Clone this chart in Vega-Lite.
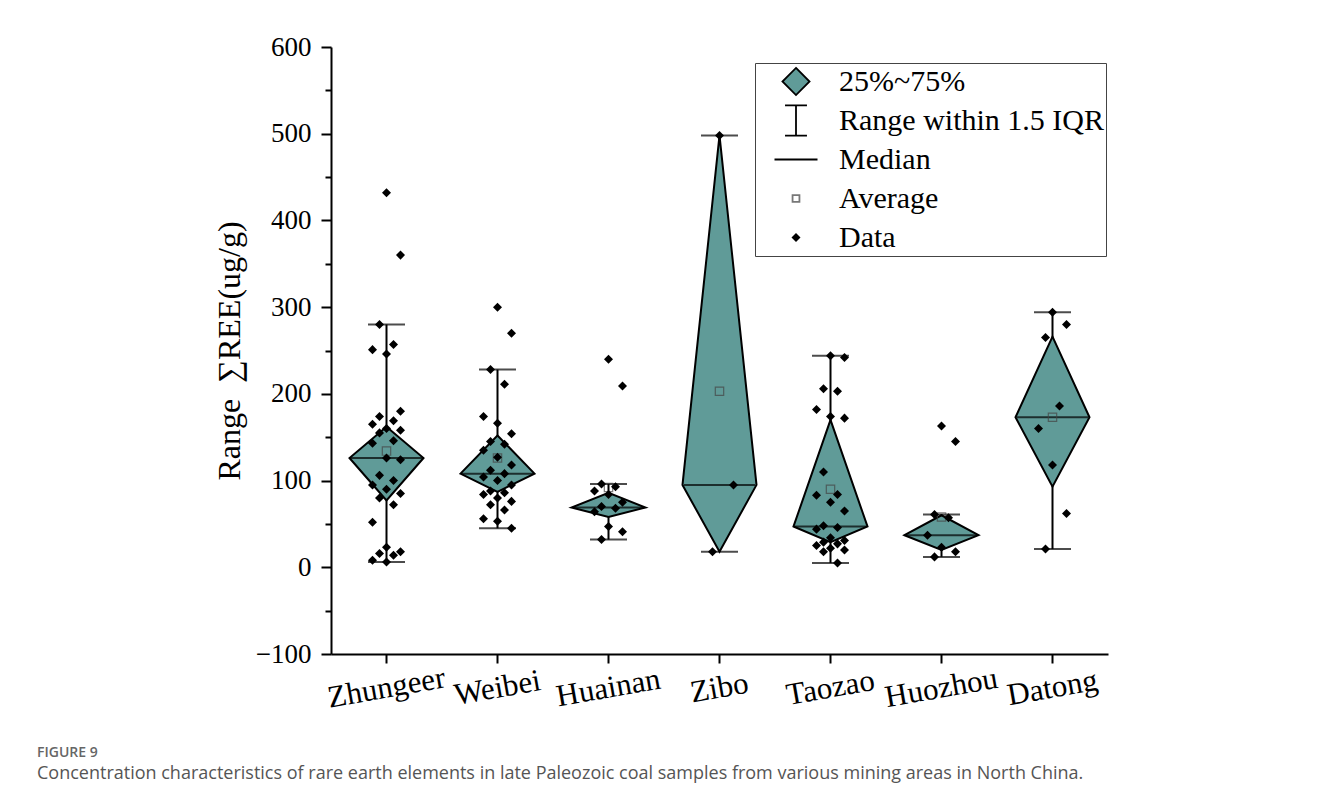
{
  "$schema": "https://vega.github.io/schema/vega-lite/v6.json",
  "width": 777,
  "height": 607,
  "autosize": {"type": "none"},
  "padding": {"left": 331, "top": 47, "right": 220, "bottom": 150},
  "background": "white",
  "title": {
    "text": "FIGURE 9",
    "subtitle": "Concentration characteristics of rare earth elements in late Paleozoic coal samples from various mining areas in North China.",
    "orient": "bottom",
    "anchor": "start",
    "frame": "group",
    "dx": -294,
    "offset": 33,
    "font": "Open Sans",
    "fontSize": 14,
    "fontWeight": 600,
    "color": "#666666",
    "subtitleFont": "Open Sans",
    "subtitleFontSize": 18,
    "subtitleColor": "#555555",
    "subtitlePadding": 5
  },
  "datasets": {
    "stats": [
      {"site": "Zhungeer", "low": 6, "q1": 77, "median": 126, "q3": 162, "high": 280, "mean": 134},
      {"site": "Weibei", "low": 45, "q1": 87, "median": 108, "q3": 152, "high": 228, "mean": 126},
      {"site": "Huainan", "low": 32, "q1": 58, "median": 69, "q3": 86, "high": 96, "mean": 92},
      {"site": "Zibo", "low": 18, "q1": 18, "median": 95, "q3": 498, "high": 498, "mean": 203},
      {"site": "Taozao", "low": 5, "q1": 29, "median": 47, "q3": 170, "high": 244, "mean": 90},
      {"site": "Huozhou", "low": 12, "q1": 20, "median": 37, "q3": 60, "high": 61, "mean": 58},
      {"site": "Datong", "low": 21, "q1": 93, "median": 173, "q3": 266, "high": 294, "mean": 173}
    ],
    "diamond": [
      {"site": "Zhungeer", "vertex": "Zhungeer-left", "lo": 126, "hi": 126},
      {"site": "Zhungeer", "vertex": "Zhungeer-mid", "lo": 77, "hi": 162},
      {"site": "Zhungeer", "vertex": "Zhungeer-right", "lo": 126, "hi": 126},
      {"site": "Weibei", "vertex": "Weibei-left", "lo": 108, "hi": 108},
      {"site": "Weibei", "vertex": "Weibei-mid", "lo": 87, "hi": 152},
      {"site": "Weibei", "vertex": "Weibei-right", "lo": 108, "hi": 108},
      {"site": "Huainan", "vertex": "Huainan-left", "lo": 69, "hi": 69},
      {"site": "Huainan", "vertex": "Huainan-mid", "lo": 58, "hi": 86},
      {"site": "Huainan", "vertex": "Huainan-right", "lo": 69, "hi": 69},
      {"site": "Zibo", "vertex": "Zibo-left", "lo": 95, "hi": 95},
      {"site": "Zibo", "vertex": "Zibo-mid", "lo": 18, "hi": 498},
      {"site": "Zibo", "vertex": "Zibo-right", "lo": 95, "hi": 95},
      {"site": "Taozao", "vertex": "Taozao-left", "lo": 47, "hi": 47},
      {"site": "Taozao", "vertex": "Taozao-mid", "lo": 29, "hi": 170},
      {"site": "Taozao", "vertex": "Taozao-right", "lo": 47, "hi": 47},
      {"site": "Huozhou", "vertex": "Huozhou-left", "lo": 37, "hi": 37},
      {"site": "Huozhou", "vertex": "Huozhou-mid", "lo": 20, "hi": 60},
      {"site": "Huozhou", "vertex": "Huozhou-right", "lo": 37, "hi": 37},
      {"site": "Datong", "vertex": "Datong-left", "lo": 173, "hi": 173},
      {"site": "Datong", "vertex": "Datong-mid", "lo": 93, "hi": 266},
      {"site": "Datong", "vertex": "Datong-right", "lo": 173, "hi": 173}
    ],
    "points": [
      {"site": "Zhungeer", "value": 432}, {"site": "Zhungeer", "value": 360}, {"site": "Zhungeer", "value": 280},
      {"site": "Zhungeer", "value": 257}, {"site": "Zhungeer", "value": 251}, {"site": "Zhungeer", "value": 246},
      {"site": "Zhungeer", "value": 180}, {"site": "Zhungeer", "value": 174}, {"site": "Zhungeer", "value": 169},
      {"site": "Zhungeer", "value": 165}, {"site": "Zhungeer", "value": 160}, {"site": "Zhungeer", "value": 158},
      {"site": "Zhungeer", "value": 155}, {"site": "Zhungeer", "value": 146}, {"site": "Zhungeer", "value": 143},
      {"site": "Zhungeer", "value": 126}, {"site": "Zhungeer", "value": 124}, {"site": "Zhungeer", "value": 106},
      {"site": "Zhungeer", "value": 100}, {"site": "Zhungeer", "value": 95}, {"site": "Zhungeer", "value": 90},
      {"site": "Zhungeer", "value": 85}, {"site": "Zhungeer", "value": 80}, {"site": "Zhungeer", "value": 72},
      {"site": "Zhungeer", "value": 52}, {"site": "Zhungeer", "value": 23}, {"site": "Zhungeer", "value": 18},
      {"site": "Zhungeer", "value": 16}, {"site": "Zhungeer", "value": 14}, {"site": "Zhungeer", "value": 8},
      {"site": "Zhungeer", "value": 6},
      {"site": "Weibei", "value": 300}, {"site": "Weibei", "value": 270}, {"site": "Weibei", "value": 228},
      {"site": "Weibei", "value": 211}, {"site": "Weibei", "value": 174}, {"site": "Weibei", "value": 166},
      {"site": "Weibei", "value": 154}, {"site": "Weibei", "value": 145}, {"site": "Weibei", "value": 142},
      {"site": "Weibei", "value": 135}, {"site": "Weibei", "value": 127}, {"site": "Weibei", "value": 118},
      {"site": "Weibei", "value": 112}, {"site": "Weibei", "value": 108}, {"site": "Weibei", "value": 104},
      {"site": "Weibei", "value": 100}, {"site": "Weibei", "value": 95}, {"site": "Weibei", "value": 88},
      {"site": "Weibei", "value": 86}, {"site": "Weibei", "value": 84}, {"site": "Weibei", "value": 80},
      {"site": "Weibei", "value": 76}, {"site": "Weibei", "value": 72}, {"site": "Weibei", "value": 66},
      {"site": "Weibei", "value": 56}, {"site": "Weibei", "value": 53}, {"site": "Weibei", "value": 45},
      {"site": "Huainan", "value": 240}, {"site": "Huainan", "value": 209}, {"site": "Huainan", "value": 96},
      {"site": "Huainan", "value": 93}, {"site": "Huainan", "value": 88}, {"site": "Huainan", "value": 84},
      {"site": "Huainan", "value": 75}, {"site": "Huainan", "value": 70}, {"site": "Huainan", "value": 68},
      {"site": "Huainan", "value": 64}, {"site": "Huainan", "value": 47}, {"site": "Huainan", "value": 41},
      {"site": "Huainan", "value": 32},
      {"site": "Zibo", "value": 498}, {"site": "Zibo", "value": 95}, {"site": "Zibo", "value": 18},
      {"site": "Taozao", "value": 244}, {"site": "Taozao", "value": 242}, {"site": "Taozao", "value": 206},
      {"site": "Taozao", "value": 203}, {"site": "Taozao", "value": 182}, {"site": "Taozao", "value": 174},
      {"site": "Taozao", "value": 172}, {"site": "Taozao", "value": 110}, {"site": "Taozao", "value": 84},
      {"site": "Taozao", "value": 83}, {"site": "Taozao", "value": 75}, {"site": "Taozao", "value": 65},
      {"site": "Taozao", "value": 48}, {"site": "Taozao", "value": 46}, {"site": "Taozao", "value": 44},
      {"site": "Taozao", "value": 34}, {"site": "Taozao", "value": 31}, {"site": "Taozao", "value": 29},
      {"site": "Taozao", "value": 27}, {"site": "Taozao", "value": 25}, {"site": "Taozao", "value": 22},
      {"site": "Taozao", "value": 20}, {"site": "Taozao", "value": 18}, {"site": "Taozao", "value": 5},
      {"site": "Huozhou", "value": 163}, {"site": "Huozhou", "value": 145}, {"site": "Huozhou", "value": 61},
      {"site": "Huozhou", "value": 57}, {"site": "Huozhou", "value": 37}, {"site": "Huozhou", "value": 23},
      {"site": "Huozhou", "value": 18}, {"site": "Huozhou", "value": 12},
      {"site": "Datong", "value": 294}, {"site": "Datong", "value": 280}, {"site": "Datong", "value": 265},
      {"site": "Datong", "value": 186}, {"site": "Datong", "value": 160}, {"site": "Datong", "value": 118},
      {"site": "Datong", "value": 62}, {"site": "Datong", "value": 21}
    ]
  },
  "layer": [
    {
      "data": {"name": "stats"},
      "encoding": {
        "x": {
          "field": "site",
          "type": "nominal",
          "title": null,
          "scale": {
            "domain": ["Zhungeer", "Weibei", "Huainan", "Zibo", "Taozao", "Huozhou", "Datong"],
            "paddingInner": 0,
            "paddingOuter": 0
          },
          "axis": {
            "labelAngle": -10,
            "labelAlign": "center",
            "labelBaseline": "middle",
            "labelFontSize": 31,
            "labelPadding": 25,
            "tickSize": 9
          }
        }
      },
      "layer": [
        {
          "mark": {"type": "rule", "color": "black", "strokeWidth": 2},
          "encoding": {
            "y": {
              "field": "low",
              "type": "quantitative",
              "title": "Range\u00a0\u00a0∑REE(ug/g)",
              "scale": {"domain": [-100, 600], "nice": false, "zero": false},
              "axis": {
                "values": [-100, -50, 0, 50, 100, 150, 200, 250, 300, 350, 400, 450, 500, 550, 600],
                "labelExpr": "datum.value % 100 === 0 ? datum.label : ''",
                "labelFontSize": 27,
                "labelPadding": 10,
                "tickSize": {"condition": {"test": "datum.value % 100 !== 0", "value": 6}, "value": 10},
                "titleFontSize": 32,
                "titlePadding": 9
              }
            },
            "y2": {"field": "high"}
          }
        },
        {
          "mark": {"type": "tick", "color": "black", "thickness": 2, "size": 37},
          "encoding": {"y": {"field": "low", "type": "quantitative", "title": "Range\u00a0\u00a0∑REE(ug/g)"}}
        },
        {
          "mark": {"type": "tick", "color": "black", "thickness": 2, "size": 37},
          "encoding": {"y": {"field": "high", "type": "quantitative", "title": "Range\u00a0\u00a0∑REE(ug/g)"}}
        }
      ]
    },
    {
      "data": {"name": "diamond"},
      "mark": {"type": "area", "fill": "#609b98", "fillOpacity": 1, "stroke": "black", "strokeWidth": 2, "strokeJoin": "miter"},
      "encoding": {
        "x": {
          "field": "vertex",
          "type": "nominal",
          "axis": null,
          "scale": {
            "type": "point",
            "padding": 0.5,
            "domain": [
              "Zhungeer-left", "Zhungeer-mid", "Zhungeer-right",
              "Weibei-left", "Weibei-mid", "Weibei-right",
              "Huainan-left", "Huainan-mid", "Huainan-right",
              "Zibo-left", "Zibo-mid", "Zibo-right",
              "Taozao-left", "Taozao-mid", "Taozao-right",
              "Huozhou-left", "Huozhou-mid", "Huozhou-right",
              "Datong-left", "Datong-mid", "Datong-right"
            ]
          }
        },
        "y": {"field": "lo", "type": "quantitative", "title": "Range\u00a0\u00a0∑REE(ug/g)"},
        "y2": {"field": "hi"},
        "detail": {"field": "site"}
      }
    },
    {
      "encoding": {
        "x": {
          "field": "site",
          "type": "nominal",
          "axis": null,
          "scale": {
            "domain": ["Zhungeer", "Weibei", "Huainan", "Zibo", "Taozao", "Huozhou", "Datong"],
            "paddingInner": 0,
            "paddingOuter": 0
          }
        }
      },
      "layer": [
        {
          "data": {"name": "stats"},
          "mark": {"type": "tick", "color": "black", "thickness": 2, "size": 71},
          "encoding": {"y": {"field": "median", "type": "quantitative", "title": "Range\u00a0\u00a0∑REE(ug/g)"}}
        },
        {
          "data": {"name": "stats"},
          "mark": {"type": "point", "shape": "square", "filled": false, "stroke": "#444444", "strokeWidth": 1.2, "size": 70},
          "encoding": {"y": {"field": "mean", "type": "quantitative", "title": "Range\u00a0\u00a0∑REE(ug/g)"}}
        },
        {
          "data": {"name": "points"},
          "transform": [
            {"window": [{"op": "row_number", "as": "rn"}], "groupby": ["site"], "sort": [{"field": "value", "order": "descending"}]},
            {"calculate": "datum.rn % 5", "as": "lane"}
          ],
          "mark": {"type": "point", "filled": true, "opacity": 1, "strokeWidth": 1.5, "size": 1849},
          "encoding": {
            "xOffset": {
              "field": "lane",
              "type": "nominal",
              "scale": {"type": "point", "domain": [0, 3, 1, 4, 2], "padding": 0, "range": [41.5, 69.5]}
            },
            "y": {"field": "value", "type": "quantitative", "title": "Range\u00a0\u00a0∑REE(ug/g)"},
            "shape": {
              "datum": "Data",
              "scale": {
                "domain": ["25%~75%", "Range within 1.5 IQR", "Median", "Average", "Data"],
                "range": [
                  "M0,-0.63L0.63,0L0,0.63L-0.63,0Z",
                  "M-0.51,-0.7L0.51,-0.7M0,-0.7L0,0.7M-0.51,0.7L0.51,0.7",
                  "M-1,0L1,0",
                  "M-0.16,-0.16L0.16,-0.16L0.16,0.16L-0.16,0.16Z",
                  "M0,-0.21L0.21,0L0,0.21L-0.21,0Z"
                ]
              },
              "legend": {"title": null, "orient": "none", "legendX": 424, "legendY": 16, "symbolSize": 1849}
            },
            "fill": {
              "datum": "Data",
              "scale": {
                "domain": ["25%~75%", "Range within 1.5 IQR", "Median", "Average", "Data"],
                "range": ["#609b98", "transparent", "transparent", "transparent", "#000000"]
              },
              "legend": {"title": null, "orient": "none", "legendX": 424, "legendY": 16, "symbolSize": 1849}
            },
            "stroke": {
              "datum": "Data",
              "scale": {
                "domain": ["25%~75%", "Range within 1.5 IQR", "Median", "Average", "Data"],
                "range": ["#000000", "#000000", "#000000", "#777777", "transparent"]
              },
              "legend": {"title": null, "orient": "none", "legendX": 424, "legendY": 16, "symbolSize": 1849}
            }
          }
        }
      ]
    }
  ],
  "resolve": {"scale": {"x": "independent", "xOffset": "independent"}},
  "config": {
    "view": {"stroke": null},
    "legend": {
      "orient": "none",
      "strokeColor": "#444444",
      "padding": 2,
      "symbolOffset": 16.5,
      "symbolSize": 1849,
      "labelFont": "Liberation Serif",
      "labelFontSize": 30,
      "labelColor": "black",
      "labelOffset": 20.5,
      "labelLimit": 400,
      "clipHeight": 33,
      "rowPadding": 6,
      "symbolStrokeWidth": 1.8
    },
    "axis": {
      "domainColor": "black",
      "domainWidth": 2,
      "tickColor": "black",
      "tickWidth": 2,
      "grid": false,
      "labelFont": "Liberation Serif",
      "titleFont": "Liberation Serif",
      "labelColor": "black",
      "titleColor": "black",
      "titleFontWeight": "normal"
    }
  }
}
